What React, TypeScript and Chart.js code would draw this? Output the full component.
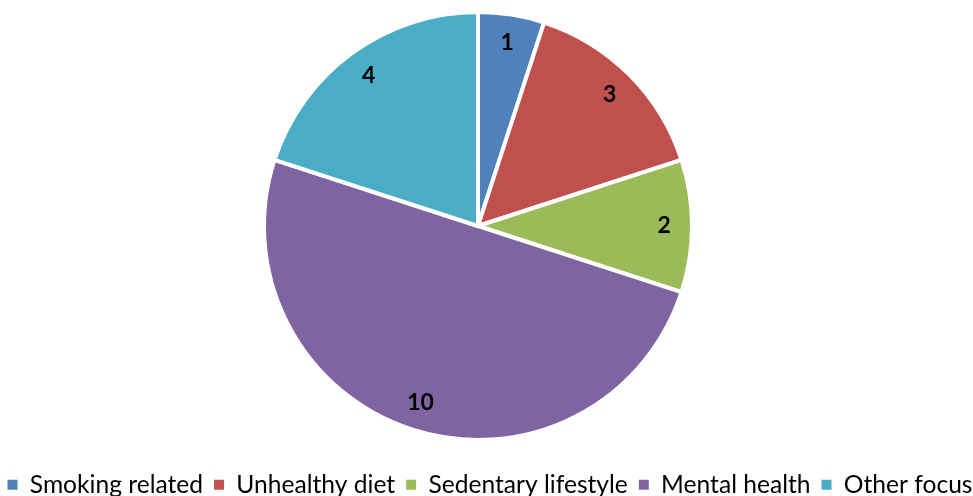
import React, { useEffect, useRef } from "react";
import { Chart, registerables } from "chart.js";

Chart.register(...registerables);

const categories = ["Smoking related", "Unhealthy diet", "Sedentary lifestyle", "Mental health", "Other focus"];
const values = [1, 3, 2, 10, 4];
const colors = ["#4F81BD", "#C0504D", "#9BBB59", "#8064A2", "#4BACC6"];

const CANVAS_W = 1010;
const CANVAS_H = 507;
const SHIFT = 15;
const CX = 478 + SHIFT;
const CY = 226;
const R = 214;

const centerPlugin = {
  id: "centerPlugin",
  afterLayout(chart: any) {
    const a = chart.chartArea;
    const halfW = (a.right - a.left) / 2;
    const halfH = (a.bottom - a.top) / 2;
    a.left = CX - halfW;
    a.right = CX + halfW;
    a.top = CY - halfH;
    a.bottom = CY + halfH;
  },
};

const labelPlugin = {
  id: "sliceLabels",
  afterDatasetsDraw(chart: any) {
    const ctx = chart.ctx;
    const meta = chart.getDatasetMeta(0);
    ctx.save();
    ctx.font = "bold 23px Lato";
    ctx.fillStyle = "#000";
    ctx.textAlign = "center";
    ctx.textBaseline = "middle";
    meta.data.forEach((arc: any, i: number) => {
      const p = arc.getProps(["startAngle", "endAngle", "outerRadius", "x", "y"], true);
      const mid = (p.startAngle + p.endAngle) / 2;
      const r = p.outerRadius * 0.87;
      ctx.fillText(String(values[i]), p.x + Math.cos(mid) * r, p.y + Math.sin(mid) * r);
    });
    ctx.restore();
  },
};

export default function App() {
  const ref = useRef<HTMLCanvasElement>(null);
  useEffect(() => {
    document.body.style.overflow = "hidden";
    document.documentElement.style.overflow = "hidden";
    const canvas = ref.current!;
    const chart = new Chart(canvas, {
      type: "pie",
      data: {
        labels: categories,
        datasets: [
          {
            data: values,
            backgroundColor: colors,
            borderColor: "#ffffff",
            borderWidth: 4,
            radius: R,
          } as any,
        ],
      },
      options: {
        responsive: false,
        animation: false,
        layout: { padding: 0 },
        plugins: {
          tooltip: { enabled: false },
          legend: {
            position: "bottom",
            labels: {
              boxWidth: 10,
              boxHeight: 10,
              padding: 11,
              color: "#000",
              font: { family: "Lato", size: 24.6 },
              generateLabels: () =>
                categories.map((c, i) => ({
                  text: c,
                  fillStyle: colors[i],
                  strokeStyle: colors[i],
                  lineWidth: 0,
                  fontColor: "#000",
                  hidden: false,
                  index: i,
                })),
            },
          },
        },
      },
      plugins: [centerPlugin, labelPlugin],
    });
    return () => chart.destroy();
  }, []);
  return (
    <canvas
      ref={ref}
      width={CANVAS_W}
      height={CANVAS_H}
      style={{ position: "fixed", left: -SHIFT, top: 0, width: CANVAS_W, height: CANVAS_H }}
    />
  );
}
